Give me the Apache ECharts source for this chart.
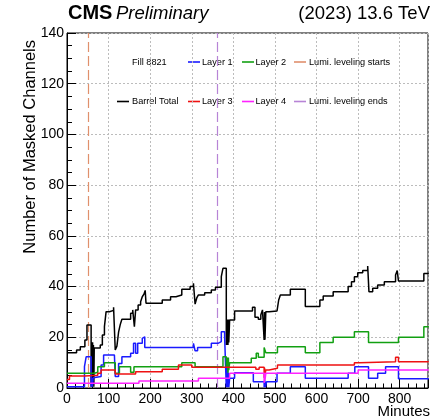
<!DOCTYPE html>
<html>
<head>
<meta charset="utf-8">
<script src="https://cdn.jsdelivr.net/npm/echarts@6/dist/echarts.min.js"></script>
<style>
html,body{margin:0;padding:0;background:#fff;}
#c{width:431px;height:419px;}
</style>
</head>
<body>
<div id="c"></div>
<script>
// ---- data (minutes, number of masked channels), step changes ----
const barrelTotal = [[0,13.9],[23,15.0],[32,16.3],[43,18.9],[48,24.8],[58,0.5],[59.5,17],[60.5,1],[61.5,18],[62.5,2],[63.5,17],[64.5,0.5],[65.5,15.8],[80,17],[85,20.9],[90,24.2],[94,30.1],[102,30.6],[112,31.8],[116,15],[120,16.5],[124,22],[128,25],[132,27.1],[153,29.5],[158,30.8],[162,24.2],[165,30.8],[171,32.7],[177,34.0],[181,36.0],[185,37.0],[188,38.5],[190,33.4],[229,34.7],[249,36.0],[262,36.7],[276,38.9],[296,40.0],[304,41.3],[308,33.1],[312,35.5],[316,36.7],[331,37.6],[347,38.6],[357,39.7],[371,43.9],[375,47.2],[383,17],[384,27],[385,17],[386,27],[387,17],[388,27],[389,18],[391,26.8],[403,30.4],[446,31.8],[452,27.9],[460,27.1],[466,28.8],[470,30.8],[474,18.9],[475,30],[476,19],[478,30.1],[486,30.4],[505,31.0],[509,34.7],[513,36.7],[537,38.9],[573,32.1],[608,34.7],[616,36.3],[640,38.0],[676,40.0],[684,41.9],[691,43.9],[699,45.5],[711,46.3],[723,48.1],[726,38.0],[735,39.3],[747,40.6],[763,41.9],[790,44.6],[794,46.3],[797,42.2],[858,45.2],[870,45.2]];
const layer1 = [[0,0.5],[42,8.4],[46,12.3],[58,0.5],[59.5,4],[61,0.5],[63,4],[66,4.5],[82,9.1],[88,13.0],[114,13.0],[116,4.5],[124,9.7],[132,12.3],[153,13.7],[160,17.6],[165,13.7],[170,17.6],[181,19.6],[184,20.2],[187,16.0],[304,17.6],[308,14.7],[314,16.0],[347,17.6],[363,18.3],[371,22.2],[379,20.2],[383,0.3],[384,12],[385,0.3],[386,10],[387,0.3],[388,6],[389,0.3],[391,3.8],[403,6.0],[448,2.5],[474,0.3],[475.5,3],[477,0.3],[480,2.5],[505,5.8],[537,8.4],[573,3.8],[676,5.8],[692,8.4],[725,3.8],[747,5.8],[766,8.4],[797,3.6],[870,3.6]];
const layer2 = [[0,5.8],[66,6.2],[74,8.4],[90,10.0],[116,5.8],[126,8.4],[153,6.2],[161,8.4],[276,10.0],[308,8.4],[375,12.3],[383,8.4],[386,12],[387,6],[388,12],[389,7],[391,10.0],[443,11.7],[455,13.7],[460,12.1],[474,16.0],[478,13.9],[506,16.3],[573,13.9],[608,17.9],[640,20.0],[691,22.2],[725,17.9],[797,20.0],[858,24.2],[870,24.2]];
const layer3 = [[0,3.4],[6,4.7],[43,5.0],[74,5.8],[82,7.1],[116,5.5],[165,6.4],[229,7.4],[268,9.1],[300,8.2],[391,8.2],[454,7.4],[462,8.2],[474,4],[475,8],[476,5],[478,7.1],[486,7.8],[506,9.1],[691,10.0],[703,10.4],[790,12.1],[797,10.4],[870,10.4]];
const layer4 = [[0,1.9],[173,2.8],[316,3.8],[391,5.8],[474,2],[475,6],[476,3],[478,5.8],[700,7.1],[870,7.1]];
const lumiStarts = [50];
const lumiEnds = [361];
const xTicks = [0,100,200,300,400,500,600,700,800];
const yTicks = [0,20,40,60,80,100,120,140];

const chart = echarts.init(document.getElementById('c'), null, {renderer:'canvas'});
const FONT = '"Liberation Sans", Arial, Helvetica, sans-serif';
const colors = {total:'#000000', l1:'#1a1aff', l2:'#12a012', l3:'#ee1111', l4:'#ff22ff', start:'#e0906c', end:'#b784d6'};

function stepSeries(name, data, color, z) {
  return {
    name: name, type:'line', step:'end', data: data, symbol:'none', z: z,
    lineStyle:{color: color, width: 1.5}, itemStyle:{color: color},
    animation:false, silent:true, clip:true
  };
}

function legendLine(x, y, color) {
  return {type:'line', shape:{x1:x, y1:y, x2:x+12, y2:y}, style:{stroke:color, lineWidth:1.6}, silent:true};
}
function legendText(x, y, t) {
  return {type:'text', x:x, y:y, style:{text:t, font:'9.2px ' + FONT, fill:'#000', verticalAlign:'middle'}, silent:true};
}

const option = {
  animation:false,
  backgroundColor:'#fff',
  grid:{left:67, top:33, right:-2, bottom:31, show:true, borderColor:'#000', borderWidth:1, backgroundColor:'transparent'},
  xAxis:{
    type:'value', min:0, max:868, interval:100,
    axisLine:{show:true, onZero:false, lineStyle:{color:'#000', width:1}},
    axisTick:{show:true, inside:true, length:9, lineStyle:{color:'#000'}},
    minorTick:{show:true, splitNumber:5, length:4.5, lineStyle:{color:'#000'}},
    axisLabel:{show:true, color:'#000', fontSize:14, fontFamily:FONT, margin:4,
      formatter:function(v){ return xTicks.indexOf(v) >= 0 ? String(v) : ''; }},
    splitLine:{show:true, lineStyle:{color:'#bcbcbc', width:1, type:[2,2]}}
  },
  yAxis:{
    type:'value', min:0, max:140, interval:20,
    axisLine:{show:true, lineStyle:{color:'#000', width:1}},
    axisTick:{show:true, inside:true, length:9, lineStyle:{color:'#000'}},
    minorTick:{show:true, splitNumber:4, length:5, lineStyle:{color:'#000'}},
    axisLabel:{show:true, color:'#000', fontSize:14, fontFamily:FONT, margin:3,
      formatter:function(v){ return yTicks.indexOf(v) >= 0 ? String(v) : ''; }},
    splitLine:{show:true, lineStyle:{color:'#bcbcbc', width:1, type:[2,2]}}
  },
  series:[
    {
      type:'line', data:[], silent:true, animation:false,
      markLine:{
        silent:true, symbol:['none','none'], label:{show:false}, animation:false,
        data: lumiStarts.map(function(v){ return {xAxis:v, lineStyle:{color:colors.start, width:1.2, type:[10,4]}}; })
          .concat(lumiEnds.map(function(v){ return {xAxis:v, lineStyle:{color:colors.end, width:1.2, type:[10,4]}}; }))
      }
    },
    stepSeries('Barrel Total', barrelTotal, colors.total, 5),
    stepSeries('Layer 1', layer1, colors.l1, 6),
    stepSeries('Layer 2', layer2, colors.l2, 7),
    stepSeries('Layer 3', layer3, colors.l3, 8),
    stepSeries('Layer 4', layer4, colors.l4, 9)
  ],
  graphic:[
    {type:'text', x:68, y:23, style:{text:'CMS', font:'bold 20px ' + FONT, fill:'#000', verticalAlign:'bottom'}},
    {type:'text', x:116, y:23, style:{text:'Preliminary', font:'italic 18.5px ' + FONT, fill:'#000', verticalAlign:'bottom'}},
    {type:'text', x:430, y:23, style:{text:'(2023) 13.6 TeV', font:'18.5px ' + FONT, fill:'#000', align:'right', verticalAlign:'bottom'}},
    {type:'text', x:430, y:404, style:{text:'Minutes', font:'15px ' + FONT, fill:'#000', align:'right', verticalAlign:'top'}},
    {type:'text', x:30, y:40, rotation:Math.PI/2, style:{text:'Number of Masked Channels', font:'16.5px ' + FONT, fill:'#000', align:'right', verticalAlign:'middle'}},
    legendText(132, 62, 'Fill 8821'),
    legendLine(188, 62, colors.l1), legendText(202, 62, 'Layer 1'),
    legendLine(242, 62, colors.l2), legendText(255.5, 62, 'Layer 2'),
    legendLine(294, 62, colors.start), legendText(309, 62, 'Lumi. leveling starts'),
    legendLine(117, 101.5, colors.total), legendText(132, 101.5, 'Barrel Total'),
    legendLine(188, 101.5, colors.l3), legendText(202, 101.5, 'Layer 3'),
    legendLine(242, 101.5, colors.l4), legendText(255.5, 101.5, 'Layer 4'),
    legendLine(294, 101.5, colors.end), legendText(309, 101.5, 'Lumi. leveling ends')
  ]
};
chart.setOption(option);
</script>
</body>
</html>
